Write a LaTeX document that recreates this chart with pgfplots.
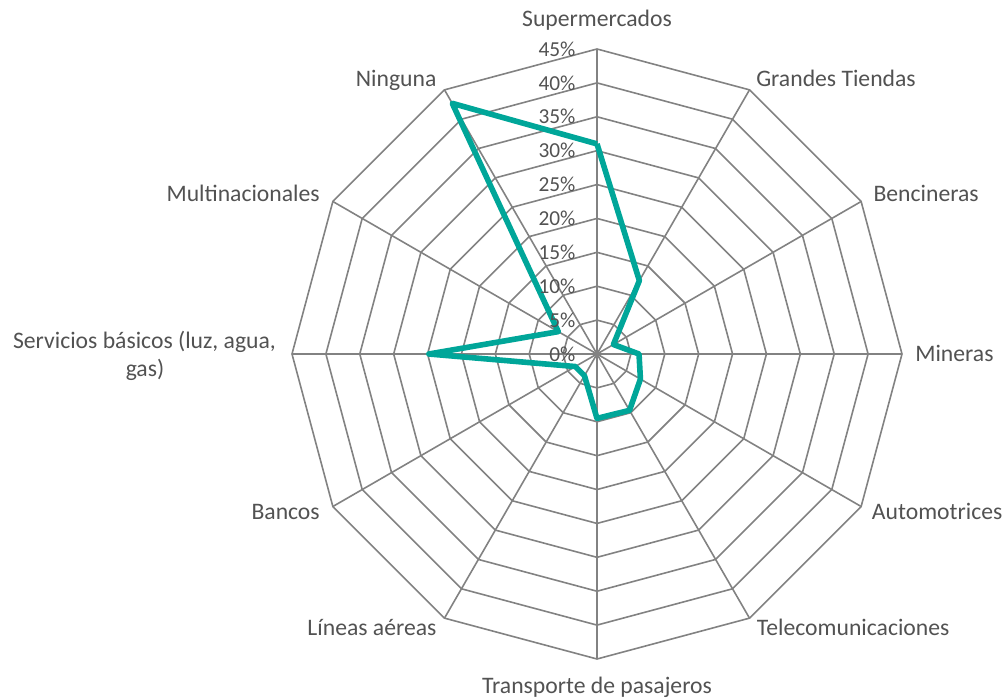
\documentclass[border=0pt]{standalone}
\usepackage{fontspec}
\setmainfont{Carlito}
\usepackage{pgfplots}
\pgfplotsset{compat=1.18}
\usepgfplotslibrary{polar}

\definecolor{txt}{RGB}{82,82,82}
\definecolor{gridc}{RGB}{130,130,130}
\definecolor{serie}{RGB}{0,166,153}

% label at an offset from the centre, offsets in pixels of the reference
\newcommand\lab[4]{\node[anchor=#3, inner sep=0pt, text=txt,
  font=\fontsize{17.75pt}{21pt}\selectfont]
  at ([xshift=#1*0.75pt, yshift=#2*0.75pt]O) {#4};}

\begin{document}
\begin{tikzpicture}
\begin{polaraxis}[
    scale only axis, width=457.5pt, height=457.5pt,
    xmin=0, xmax=360, ymin=0, ymax=45,
    hide axis, clip=false,
]
% rings
\pgfplotsinvokeforeach{5,10,...,45}{
  \addplot[gridc, line width=1.2pt, forget plot] coordinates {
    (0,#1)(30,#1)(60,#1)(90,#1)(120,#1)(150,#1)(180,#1)
    (210,#1)(240,#1)(270,#1)(300,#1)(330,#1)(360,#1)};
}
% spokes
\pgfplotsinvokeforeach{0,30,60,120,150,180,210,240,270,300,330}{
  \addplot[gridc, line width=1.2pt, forget plot] coordinates {(#1,0)(#1,45)};
}
\addplot[gridc, line width=1.8pt, forget plot] coordinates {(90,0)(90,45)};

% data: Supermercados at the top, clockwise
\addplot[serie, line width=4.2pt, line join=round] coordinates {
  (90,31.0)   % Supermercados
  (60,12.5)   % Grandes Tiendas
  (30,2.8)    % Bencineras
  (0,6.2)     % Mineras
  (330,7.4)   % Automotrices
  (300,9.6)   % Telecomunicaciones
  (270,9.5)   % Transporte de pasajeros
  (240,3.7)   % Lineas aereas
  (210,3.7)   % Bancos
  (180,24.8)  % Servicios basicos
  (150,6.6)   % Multinacionales
  (120,42.7)  % Ninguna
  (90,31.0)
};

\pgfplotsinvokeforeach{0,5,...,45}{
  \node[anchor=east, inner sep=0pt, text=txt, font=\fontsize{16pt}{18pt}\selectfont]
    at ([xshift=-16pt]axis cs:90,#1) {#1\%};
}
\coordinate (O) at (axis cs:0,0);
\end{polaraxis}

\lab{0}{327.3}{base}{Supermercados}
\lab{159}{267.3}{base west}{Grandes Tiendas}
\lab{276.3}{152.3}{base west}{Bencineras}
\lab{318}{-7.7}{base west}{Mineras}
\lab{274.7}{-166}{base west}{Automotrices}
\lab{159.7}{-281.7}{base west}{Telecomunicaciones}
\lab{0}{-339.3}{base}{Transporte de pasajeros}
\lab{-160.3}{-281.7}{base east}{Líneas aéreas}
\lab{-277}{-166}{base east}{Bancos}
\lab{-452.5}{5.7}{base}{Servicios básicos (luz, agua,}
\lab{-452}{-22.7}{base}{gas)}
\lab{-277}{152.3}{base east}{Multinacionales}
\lab{-160.3}{267.3}{base east}{Ninguna}

\pgfresetboundingbox
\path ([xshift=-447.75pt, yshift=-258.75pt]O) rectangle ([xshift=307.5pt, yshift=265.5pt]O);
\end{tikzpicture}
\end{document}
